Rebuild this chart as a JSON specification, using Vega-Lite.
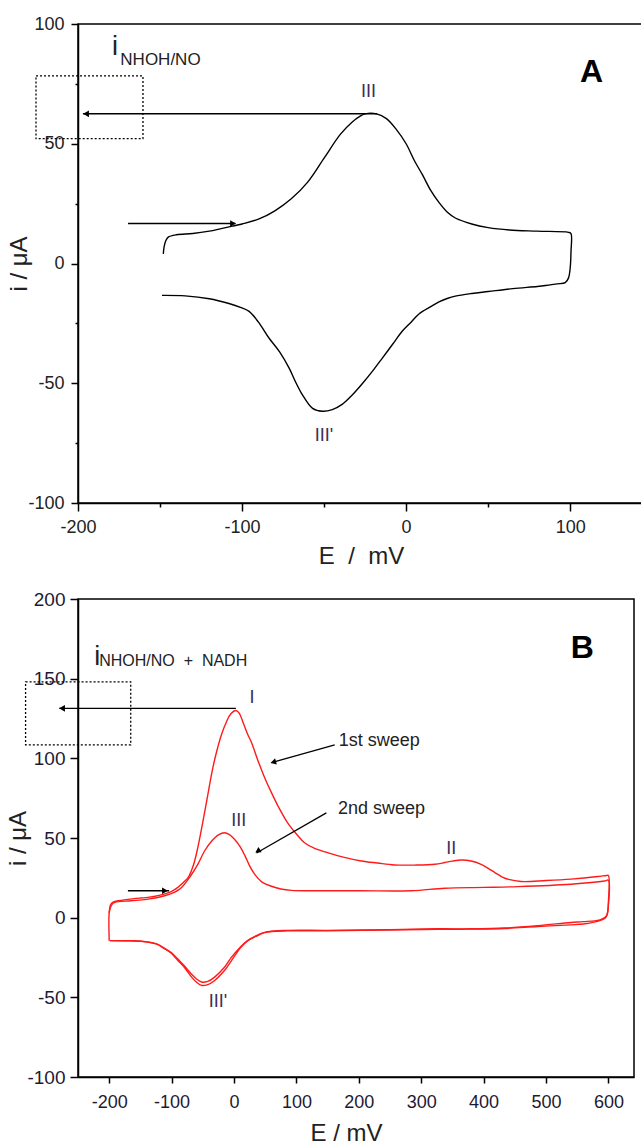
{
  "$schema": "https://vega.github.io/schema/vega-lite/v6.json",
  "padding": {"left": 6, "top": 14, "right": 0, "bottom": 0},
  "spacing": 20,
  "datasets": {
    "cvA": [
      {"E": -148, "i": 4}, {"E": -147.5, "i": 7}, {"E": -146.5, "i": 9.5}, {"E": -145, "i": 11}, {"E": -140, "i": 12},
      {"E": -130, "i": 12.5}, {"E": -120, "i": 13.5}, {"E": -110, "i": 15}, {"E": -100, "i": 16.5}, {"E": -90, "i": 18.5},
      {"E": -80, "i": 22}, {"E": -70, "i": 27}, {"E": -60, "i": 34}, {"E": -50, "i": 44}, {"E": -40, "i": 54},
      {"E": -33, "i": 59}, {"E": -28, "i": 61.5}, {"E": -25, "i": 62.5}, {"E": -18, "i": 62.5}, {"E": -12, "i": 60.5},
      {"E": -6, "i": 56}, {"E": 0, "i": 50}, {"E": 5, "i": 43}, {"E": 10, "i": 37}, {"E": 15, "i": 30.5},
      {"E": 20, "i": 25.5}, {"E": 25, "i": 21.5}, {"E": 30, "i": 19}, {"E": 40, "i": 16.5}, {"E": 50, "i": 15},
      {"E": 63, "i": 14}, {"E": 80, "i": 13.5}, {"E": 99, "i": 13}, {"E": 100.5, "i": 12.5},
      {"E": 100.5, "i": 5}, {"E": 100, "i": -2}, {"E": 99, "i": -6}, {"E": 97, "i": -8}, {"E": 92, "i": -8.5},
      {"E": 85, "i": -9.2}, {"E": 80, "i": -9.6}, {"E": 65, "i": -10.5}, {"E": 50, "i": -11.7}, {"E": 40, "i": -12.5},
      {"E": 30, "i": -13.6}, {"E": 25, "i": -14.6}, {"E": 20, "i": -16}, {"E": 15, "i": -18}, {"E": 8, "i": -21},
      {"E": 3, "i": -24.5}, {"E": -2.4, "i": -28.3}, {"E": -8, "i": -33.5}, {"E": -14.6, "i": -39.6}, {"E": -20, "i": -44.5},
      {"E": -27, "i": -50.4}, {"E": -33, "i": -55}, {"E": -39, "i": -58.8}, {"E": -45, "i": -61}, {"E": -51, "i": -61.7},
      {"E": -57, "i": -60.5}, {"E": -63.4, "i": -54.6}, {"E": -67, "i": -50}, {"E": -71.3, "i": -43.7}, {"E": -77, "i": -37},
      {"E": -83.5, "i": -31.2}, {"E": -90, "i": -24.5}, {"E": -95.7, "i": -20}, {"E": -101, "i": -18.3}, {"E": -108, "i": -16.7},
      {"E": -120, "i": -14.7}, {"E": -134.7, "i": -13.5}, {"E": -148.8, "i": -13.3}
    ],
    "boxA": [{"E": -225.6, "E2": -160.4, "i": 78.3, "i2": 52.1}],
    "arrA": [
      {"E": -17.7, "i": 62.5, "E2": -197, "i2": 62.5},
      {"E": -169.5, "i": 16.7, "E2": -104, "i2": 16.7}
    ],
    "headA": [
      {"E": -195.1, "i": 62.5, "kind": "left"},
      {"E": -105.5, "i": 16.7, "kind": "right"}
    ],
    "txtA": [
      {"E": -23, "i": 71.7, "t": "III", "kind": "lab"},
      {"E": -50, "i": -72, "t": "III'", "kind": "lab"},
      {"E": 113, "i": 80, "t": "A", "kind": "big"},
      {"E": -179.3, "i": 87, "t": "i", "kind": "i"},
      {"E": -174.2, "i": 83, "t": "NHOH/NO", "kind": "sub"}
    ],
    "cvB": [
      {"sweep": "1st", "E": -200, "i": 3}, {"sweep": "1st", "E": -198, "i": 8}, {"sweep": "1st", "E": -195, "i": 9.5},
      {"sweep": "1st", "E": -186, "i": 10.6}, {"sweep": "1st", "E": -170, "i": 11.5}, {"sweep": "1st", "E": -150, "i": 12.3},
      {"sweep": "1st", "E": -138, "i": 12.7}, {"sweep": "1st", "E": -120, "i": 14}, {"sweep": "1st", "E": -100, "i": 16.5},
      {"sweep": "1st", "E": -90, "i": 19}, {"sweep": "1st", "E": -80, "i": 22.5}, {"sweep": "1st", "E": -73, "i": 25.5},
      {"sweep": "1st", "E": -65, "i": 33}, {"sweep": "1st", "E": -58, "i": 44}, {"sweep": "1st", "E": -50, "i": 60},
      {"sweep": "1st", "E": -42, "i": 77}, {"sweep": "1st", "E": -35, "i": 92}, {"sweep": "1st", "E": -28, "i": 104},
      {"sweep": "1st", "E": -20, "i": 115}, {"sweep": "1st", "E": -12, "i": 123}, {"sweep": "1st", "E": -5, "i": 128},
      {"sweep": "1st", "E": 3, "i": 130}, {"sweep": "1st", "E": 8, "i": 128.5}, {"sweep": "1st", "E": 15, "i": 122},
      {"sweep": "1st", "E": 22, "i": 115}, {"sweep": "1st", "E": 28, "i": 110}, {"sweep": "1st", "E": 38, "i": 99},
      {"sweep": "1st", "E": 49, "i": 88}, {"sweep": "1st", "E": 60, "i": 78.5}, {"sweep": "1st", "E": 72, "i": 69},
      {"sweep": "1st", "E": 86, "i": 59.5}, {"sweep": "1st", "E": 100, "i": 52.5}, {"sweep": "1st", "E": 113, "i": 47},
      {"sweep": "1st", "E": 130, "i": 43.3}, {"sweep": "1st", "E": 150, "i": 40.8}, {"sweep": "1st", "E": 175, "i": 38},
      {"sweep": "1st", "E": 204, "i": 35.6}, {"sweep": "1st", "E": 230, "i": 34.3}, {"sweep": "1st", "E": 257, "i": 33.1},
      {"sweep": "1st", "E": 290, "i": 33}, {"sweep": "1st", "E": 322, "i": 33.5}, {"sweep": "1st", "E": 338, "i": 34.6},
      {"sweep": "1st", "E": 350, "i": 35.5}, {"sweep": "1st", "E": 364, "i": 36.2}, {"sweep": "1st", "E": 380, "i": 35.6},
      {"sweep": "1st", "E": 396, "i": 33.5}, {"sweep": "1st", "E": 408, "i": 30.8}, {"sweep": "1st", "E": 418, "i": 28.3},
      {"sweep": "1st", "E": 430, "i": 25.5}, {"sweep": "1st", "E": 440, "i": 24}, {"sweep": "1st", "E": 460, "i": 22.7},
      {"sweep": "1st", "E": 500, "i": 23.3}, {"sweep": "1st", "E": 540, "i": 24.2}, {"sweep": "1st", "E": 583, "i": 25.8},
      {"sweep": "1st", "E": 597, "i": 26.5}, {"sweep": "1st", "E": 600, "i": 26.5}, {"sweep": "1st", "E": 600, "i": 10},
      {"sweep": "1st", "E": 598, "i": 2}, {"sweep": "1st", "E": 594, "i": 0}, {"sweep": "1st", "E": 585, "i": -1.5},
      {"sweep": "1st", "E": 560, "i": -2.5}, {"sweep": "1st", "E": 540, "i": -3}, {"sweep": "1st", "E": 487, "i": -5},
      {"sweep": "1st", "E": 434, "i": -6.5}, {"sweep": "1st", "E": 380, "i": -7}, {"sweep": "1st", "E": 327, "i": -7},
      {"sweep": "1st", "E": 250, "i": -7.5}, {"sweep": "1st", "E": 150, "i": -8}, {"sweep": "1st", "E": 86, "i": -8},
      {"sweep": "1st", "E": 49, "i": -9.2}, {"sweep": "1st", "E": 35, "i": -11.5}, {"sweep": "1st", "E": 22, "i": -14.4},
      {"sweep": "1st", "E": 10, "i": -19}, {"sweep": "1st", "E": -4, "i": -26.9}, {"sweep": "1st", "E": -15, "i": -33},
      {"sweep": "1st", "E": -31, "i": -39.4}, {"sweep": "1st", "E": -42, "i": -42}, {"sweep": "1st", "E": -52, "i": -42.5},
      {"sweep": "1st", "E": -60, "i": -40.5}, {"sweep": "1st", "E": -68, "i": -37.3}, {"sweep": "1st", "E": -80, "i": -31},
      {"sweep": "1st", "E": -90, "i": -26.9}, {"sweep": "1st", "E": -100, "i": -22.5}, {"sweep": "1st", "E": -111, "i": -19.6},
      {"sweep": "1st", "E": -125, "i": -16.5}, {"sweep": "1st", "E": -149, "i": -14.8}, {"sweep": "1st", "E": -175, "i": -14.5},
      {"sweep": "1st", "E": -199, "i": -14.4},
      {"sweep": "2nd", "E": -200, "i": -14.4}, {"sweep": "2nd", "E": -200, "i": 3}, {"sweep": "2nd", "E": -198, "i": 6.4},
      {"sweep": "2nd", "E": -195, "i": 8.5}, {"sweep": "2nd", "E": -191, "i": 9.6}, {"sweep": "2nd", "E": -165, "i": 10.6},
      {"sweep": "2nd", "E": -140, "i": 11.5}, {"sweep": "2nd", "E": -111, "i": 13.75}, {"sweep": "2nd", "E": -95, "i": 16},
      {"sweep": "2nd", "E": -84, "i": 19}, {"sweep": "2nd", "E": -70, "i": 26}, {"sweep": "2nd", "E": -58, "i": 33.5},
      {"sweep": "2nd", "E": -47, "i": 42}, {"sweep": "2nd", "E": -36, "i": 48}, {"sweep": "2nd", "E": -25, "i": 52},
      {"sweep": "2nd", "E": -15, "i": 53.3}, {"sweep": "2nd", "E": -8, "i": 52.3}, {"sweep": "2nd", "E": 0, "i": 49.5},
      {"sweep": "2nd", "E": 10, "i": 44.5}, {"sweep": "2nd", "E": 18, "i": 38.5}, {"sweep": "2nd", "E": 25, "i": 32.5},
      {"sweep": "2nd", "E": 33, "i": 27.3}, {"sweep": "2nd", "E": 45, "i": 22.3}, {"sweep": "2nd", "E": 60, "i": 19.7},
      {"sweep": "2nd", "E": 75, "i": 18}, {"sweep": "2nd", "E": 92, "i": 17.1}, {"sweep": "2nd", "E": 124, "i": 16.9},
      {"sweep": "2nd", "E": 200, "i": 16.9}, {"sweep": "2nd", "E": 284, "i": 16.9}, {"sweep": "2nd", "E": 338, "i": 18.5},
      {"sweep": "2nd", "E": 400, "i": 19}, {"sweep": "2nd", "E": 455, "i": 19.5}, {"sweep": "2nd", "E": 540, "i": 21},
      {"sweep": "2nd", "E": 594, "i": 23}, {"sweep": "2nd", "E": 600, "i": 23.5}, {"sweep": "2nd", "E": 600, "i": 8},
      {"sweep": "2nd", "E": 597, "i": 1}, {"sweep": "2nd", "E": 592, "i": -1}, {"sweep": "2nd", "E": 580, "i": -2.5},
      {"sweep": "2nd", "E": 560, "i": -4}, {"sweep": "2nd", "E": 540, "i": -4.5}, {"sweep": "2nd", "E": 487, "i": -5.5},
      {"sweep": "2nd", "E": 434, "i": -6.8}, {"sweep": "2nd", "E": 380, "i": -7.2}, {"sweep": "2nd", "E": 327, "i": -7.3},
      {"sweep": "2nd", "E": 250, "i": -7.7}, {"sweep": "2nd", "E": 150, "i": -8.2}, {"sweep": "2nd", "E": 86, "i": -8.3},
      {"sweep": "2nd", "E": 49, "i": -9.4}, {"sweep": "2nd", "E": 35, "i": -11.8}, {"sweep": "2nd", "E": 22, "i": -14.4},
      {"sweep": "2nd", "E": 10, "i": -18.5}, {"sweep": "2nd", "E": -4, "i": -24.8}, {"sweep": "2nd", "E": -15, "i": -31},
      {"sweep": "2nd", "E": -31, "i": -37.3}, {"sweep": "2nd", "E": -42, "i": -40}, {"sweep": "2nd", "E": -52, "i": -40.4},
      {"sweep": "2nd", "E": -60, "i": -38.5}, {"sweep": "2nd", "E": -68, "i": -35.5}, {"sweep": "2nd", "E": -80, "i": -30},
      {"sweep": "2nd", "E": -90, "i": -26}, {"sweep": "2nd", "E": -100, "i": -22}, {"sweep": "2nd", "E": -111, "i": -19.3},
      {"sweep": "2nd", "E": -125, "i": -16.3}, {"sweep": "2nd", "E": -149, "i": -14.8}, {"sweep": "2nd", "E": -175, "i": -14.5},
      {"sweep": "2nd", "E": -199, "i": -14.4}
    ],
    "boxB": [{"E": -334, "E2": -165.5, "i": 148, "i2": 108.5}],
    "arrB": [
      {"E": 3, "i": 131.4, "E2": -280, "i2": 131.4},
      {"E": -170, "i": 16.9, "E2": -104, "i2": 16.9},
      {"E": 161.4, "i": 108.5, "E2": 60, "i2": 97.3},
      {"E": 148, "i": 65.8, "E2": 36, "i2": 40.6}
    ],
    "headB": [
      {"E": -275.6, "i": 131.4, "kind": "left"},
      {"E": -110.6, "i": 16.9, "kind": "right"},
      {"E": 63, "i": 97.6, "kind": "s1"},
      {"E": 38, "i": 41.8, "kind": "s2"}
    ],
    "txtB": [
      {"E": 29, "i": 137.7, "t": "I", "kind": "lab"},
      {"E": 7.5, "i": 60.6, "t": "III", "kind": "lab"},
      {"E": -25.6, "i": -53, "t": "III'", "kind": "lab"},
      {"E": 348, "i": 43, "t": "II", "kind": "lab"},
      {"E": 558, "i": 169, "t": "B", "kind": "big"},
      {"E": 167.8, "i": 110.6, "t": "1st sweep", "kind": "note"},
      {"E": 166.7, "i": 68.1, "t": "2nd sweep", "kind": "note"},
      {"E": -224, "i": 158.75, "t": "i", "kind": "i"},
      {"E": -216, "i": 158, "t": "NHOH/NO\u00a0\u00a0+\u00a0\u00a0NADH", "kind": "sub"}
    ]
  },
  "vconcat": [
    {
      "width": 566,
      "height": 479,
      "layer": [
        {
          "data": {"name": "cvA"},
          "mark": {"type": "line", "color": "#000", "strokeWidth": 1.4, "interpolate": "catmull-rom"},
          "encoding": {
            "x": {"field": "E", "type": "quantitative",
              "scale": {"domain": [-200, 145], "nice": false, "zero": false},
              "axis": {"values": [-200, -150, -100, -50, 0, 50, 100],
                "labelExpr": "datum.value % 100 === 0 ? '' + datum.value : ''",
                "tickSize": {"condition": {"test": "datum.value % 100 !== 0", "value": 4}, "value": 8},
                "labelPadding": 7, "labelFontSize": 18, "title": "E\u00a0\u00a0/\u00a0\u00a0mV", "titleFontSize": 24, "titlePadding": 8}},
            "y": {"field": "i", "type": "quantitative",
              "scale": {"domain": [-100, 100], "nice": false, "zero": false},
              "axis": {"values": [-100, -75, -50, -25, 0, 25, 50, 75, 100],
                "labelExpr": "datum.value % 50 === 0 ? '' + datum.value : ''",
                "tickSize": {"condition": {"test": "datum.value % 50 !== 0", "value": 3}, "value": 7},
                "labelPadding": 7, "labelFontSize": 18, "title": "i / μA", "titleFontSize": 24, "titlePadding": -4}},
            "order": {"value": null}
          }
        },
        {
          "data": {"name": "boxA"},
          "mark": {"type": "rect", "fillOpacity": 0, "stroke": "#000", "strokeWidth": 1.3, "strokeDash": [2, 2]},
          "encoding": {"x": {"field": "E", "type": "quantitative"}, "x2": {"field": "E2"}, "y": {"field": "i", "type": "quantitative"}, "y2": {"field": "i2"}}
        },
        {
          "data": {"name": "arrA"},
          "mark": {"type": "rule", "color": "#000", "strokeWidth": 1.4},
          "encoding": {"x": {"field": "E", "type": "quantitative"}, "x2": {"field": "E2"}, "y": {"field": "i", "type": "quantitative"}, "y2": {"field": "i2"}}
        },
        {
          "data": {"name": "headA"},
          "transform": [{"filter": "datum.kind === 'left'"}],
          "mark": {"type": "point", "shape": "triangle-left", "filled": true, "color": "#000", "size": 45, "opacity": 1},
          "encoding": {"x": {"field": "E", "type": "quantitative"}, "y": {"field": "i", "type": "quantitative"}}
        },
        {
          "data": {"name": "headA"},
          "transform": [{"filter": "datum.kind === 'right'"}],
          "mark": {"type": "point", "shape": "triangle-right", "filled": true, "color": "#000", "size": 45, "opacity": 1},
          "encoding": {"x": {"field": "E", "type": "quantitative"}, "y": {"field": "i", "type": "quantitative"}}
        },
        {
          "data": {"name": "txtA"},
          "transform": [{"filter": "datum.kind === 'lab'"}],
          "mark": {"type": "text", "fontSize": 18, "color": "#3b2d55", "font": "Liberation Sans"},
          "encoding": {"x": {"field": "E", "type": "quantitative"}, "y": {"field": "i", "type": "quantitative"}, "text": {"field": "t"}}
        },
        {
          "data": {"name": "txtA"},
          "transform": [{"filter": "datum.kind === 'big'"}],
          "mark": {"type": "text", "fontSize": 32, "fontWeight": "bold", "color": "#000", "font": "Liberation Sans"},
          "encoding": {"x": {"field": "E", "type": "quantitative"}, "y": {"field": "i", "type": "quantitative"}, "text": {"field": "t"}}
        },
        {
          "data": {"name": "txtA"},
          "transform": [{"filter": "datum.kind === 'i'"}],
          "mark": {"type": "text", "fontSize": 27, "align": "left", "baseline": "alphabetic", "color": "#222", "font": "Liberation Sans"},
          "encoding": {"x": {"field": "E", "type": "quantitative"}, "y": {"field": "i", "type": "quantitative"}, "text": {"field": "t"}}
        },
        {
          "data": {"name": "txtA"},
          "transform": [{"filter": "datum.kind === 'sub'"}],
          "mark": {"type": "text", "fontSize": 17, "align": "left", "baseline": "alphabetic", "color": "#222", "font": "Liberation Sans"},
          "encoding": {"x": {"field": "E", "type": "quantitative"}, "y": {"field": "i", "type": "quantitative"}, "text": {"field": "t"}}
        }
      ]
    },
    {
      "width": 556,
      "height": 478,
      "layer": [
        {
          "data": {"name": "cvB"},
          "mark": {"type": "line", "color": "#ff1a1a", "strokeWidth": 1.4, "interpolate": "catmull-rom"},
          "encoding": {
            "x": {"field": "E", "type": "quantitative",
              "scale": {"domain": [-250, 641], "nice": false, "zero": false},
              "axis": {"values": [-200, -150, -100, -50, 0, 50, 100, 150, 200, 250, 300, 350, 400, 450, 500, 550, 600],
                "labelExpr": "datum.value % 100 === 0 ? '' + datum.value : ''",
                "tickSize": {"condition": {"test": "datum.value % 100 !== 0", "value": 4}, "value": 6},
                "labelPadding": 10, "labelFontSize": 18, "labelColor": "#1e1a33", "title": "E / mV", "titleFontSize": 24, "titlePadding": 10, "titleX": 268}},
            "y": {"field": "i", "type": "quantitative",
              "scale": {"domain": [-100, 200], "nice": false, "zero": false},
              "axis": {"values": [-100, -75, -50, -25, 0, 25, 50, 75, 100, 125, 150, 175, 200],
                "labelExpr": "datum.value % 50 === 0 ? '' + datum.value : ''",
                "tickSize": {"condition": {"test": "datum.value % 50 !== 0", "value": 3}, "value": 8},
                "labelPadding": 5, "labelFontSize": 19, "labelColor": "#1e1a33", "title": "i / μA", "titleFontSize": 24, "titlePadding": -4}},
            "detail": {"field": "sweep"},
            "order": {"value": null}
          }
        },
        {
          "data": {"name": "boxB"},
          "mark": {"type": "rect", "fillOpacity": 0, "stroke": "#000", "strokeWidth": 1.3, "strokeDash": [2, 2]},
          "encoding": {"x": {"field": "E", "type": "quantitative"}, "x2": {"field": "E2"}, "y": {"field": "i", "type": "quantitative"}, "y2": {"field": "i2"}}
        },
        {
          "data": {"name": "arrB"},
          "mark": {"type": "rule", "color": "#000", "strokeWidth": 1.3},
          "encoding": {"x": {"field": "E", "type": "quantitative"}, "x2": {"field": "E2"}, "y": {"field": "i", "type": "quantitative"}, "y2": {"field": "i2"}}
        },
        {
          "data": {"name": "headB"},
          "transform": [{"filter": "datum.kind === 'left'"}],
          "mark": {"type": "point", "shape": "triangle-left", "filled": true, "color": "#000", "size": 45, "opacity": 1},
          "encoding": {"x": {"field": "E", "type": "quantitative"}, "y": {"field": "i", "type": "quantitative"}}
        },
        {
          "data": {"name": "headB"},
          "transform": [{"filter": "datum.kind === 'right'"}],
          "mark": {"type": "point", "shape": "triangle-right", "filled": true, "color": "#000", "size": 45, "opacity": 1},
          "encoding": {"x": {"field": "E", "type": "quantitative"}, "y": {"field": "i", "type": "quantitative"}}
        },
        {
          "data": {"name": "headB"},
          "transform": [{"filter": "datum.kind === 's1'"}],
          "mark": {"type": "point", "shape": "triangle-left", "angle": 344, "filled": true, "color": "#000", "size": 40, "opacity": 1},
          "encoding": {"x": {"field": "E", "type": "quantitative"}, "y": {"field": "i", "type": "quantitative"}}
        },
        {
          "data": {"name": "headB"},
          "transform": [{"filter": "datum.kind === 's2'"}],
          "mark": {"type": "point", "shape": "triangle-left", "angle": 329, "filled": true, "color": "#000", "size": 40, "opacity": 1},
          "encoding": {"x": {"field": "E", "type": "quantitative"}, "y": {"field": "i", "type": "quantitative"}}
        },
        {
          "data": {"name": "txtB"},
          "transform": [{"filter": "datum.kind === 'lab'"}],
          "mark": {"type": "text", "fontSize": 18, "color": "#3b2d55", "font": "Liberation Sans"},
          "encoding": {"x": {"field": "E", "type": "quantitative"}, "y": {"field": "i", "type": "quantitative"}, "text": {"field": "t"}}
        },
        {
          "data": {"name": "txtB"},
          "transform": [{"filter": "datum.kind === 'big'"}],
          "mark": {"type": "text", "fontSize": 32, "fontWeight": "bold", "color": "#000", "font": "Liberation Sans"},
          "encoding": {"x": {"field": "E", "type": "quantitative"}, "y": {"field": "i", "type": "quantitative"}, "text": {"field": "t"}}
        },
        {
          "data": {"name": "txtB"},
          "transform": [{"filter": "datum.kind === 'note'"}],
          "mark": {"type": "text", "fontSize": 18, "align": "left", "color": "#222", "font": "Liberation Sans"},
          "encoding": {"x": {"field": "E", "type": "quantitative"}, "y": {"field": "i", "type": "quantitative"}, "text": {"field": "t"}}
        },
        {
          "data": {"name": "txtB"},
          "transform": [{"filter": "datum.kind === 'i'"}],
          "mark": {"type": "text", "fontSize": 27, "align": "left", "baseline": "alphabetic", "color": "#222", "font": "Liberation Sans"},
          "encoding": {"x": {"field": "E", "type": "quantitative"}, "y": {"field": "i", "type": "quantitative"}, "text": {"field": "t"}}
        },
        {
          "data": {"name": "txtB"},
          "transform": [{"filter": "datum.kind === 'sub'"}],
          "mark": {"type": "text", "fontSize": 16, "align": "left", "baseline": "alphabetic", "color": "#222", "font": "Liberation Sans"},
          "encoding": {"x": {"field": "E", "type": "quantitative"}, "y": {"field": "i", "type": "quantitative"}, "text": {"field": "t"}}
        }
      ]
    }
  ],
  "config": {
    "font": "Liberation Sans",
    "view": {"stroke": "#000", "strokeWidth": 1.5},
    "axis": {"domainColor": "#000", "domainWidth": 1.5, "tickColor": "#000", "tickWidth": 1.5, "grid": false,
      "labelColor": "#222", "titleColor": "#222", "titleFontWeight": "normal", "labelFlush": false, "labelOverlap": false,
      "labelFont": "Liberation Sans", "titleFont": "Liberation Sans"}
  }
}
